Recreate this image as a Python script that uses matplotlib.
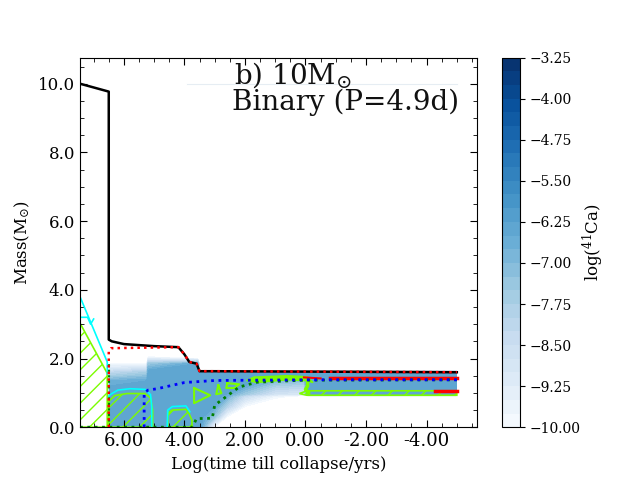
import matplotlib
matplotlib.use("Agg")
import matplotlib.pyplot as plt
import numpy as np
from matplotlib.ticker import FuncFormatter, MultipleLocator, FormatStrFormatter

plt.rcParams["font.family"] = "DejaVu Serif"
plt.rcParams["mathtext.fontset"] = "dejavuserif"
plt.rcParams["hatch.linewidth"] = 1.0

# log abundance field, columns along time, rows along mass
time_grid = [6.51, 6.48, 5.25, 5.2, 3.56, 3.48, 3.0, 2.6, 2.0, 1.0, 0.05, -0.05, -5.0]
mass_grid = [0.0, 0.3, 0.6, 0.9, 0.97, 1.2, 1.35, 1.5, 1.6, 1.66, 1.85, 2.05, 2.35]
log_ca = [
    [-11, -11, -11, -11, -11, -11, -11, -11, -11, -11, -11, -11, -11],
    [-6.5, -6.5, -6.5, -6.5, -6.5, -6.5, -6.75, -7.75, -8.25, -8.75, -9.9, -11, -11],
    [-6.25, -6.25, -6.25, -6.25, -6.25, -6.25, -6.5, -7.25, -7.75, -8.25, -9.9, -11, -11],
    [-6.25, -6.25, -6.25, -6.25, -6.25, -6.25, -6.25, -6.25, -6.5, -6.5, -7.5, -10, -11],
    [-6.25, -6.25, -6.25, -6.25, -6.25, -6.25, -6.25, -6.25, -6.25, -6.25, -6.5, -11, -11],
    [-6.25, -6.25, -6.25, -6.25, -6.25, -6.25, -6.25, -6.25, -6.25, -11, -11, -11, -11],
    [-10, -7.5, -6.5, -6.25, -6.25, -6.25, -6.25, -6.25, -6.25, -11, -11, -11, -11],
    [-11, -10, -8, -6.75, -6.5, -6.25, -6.25, -6.25, -6.25, -11, -11, -11, -11],
    [-11, -11, -10, -8.5, -7.5, -6.5, -6.25, -6.25, -6.25, -11, -11, -11, -11],
    [-11, -11, -11, -9.75, -8.75, -7.75, -7, -6.25, -6.25, -11, -11, -11, -11],
    [-11, -11, -11, -10.25, -9, -8, -7.25, -6.25, -6.25, -11, -11, -11, -11],
    [-11, -11, -11, -10.5, -6.25, -6.25, -6.25, -6.25, -6.25, -11, -11, -11, -11],
    [-11, -11, -11, -10.5, -6.25, -6.25, -6.25, -6.25, -6.25, -11, -11, -11, -11],
]

# stellar boundaries
total_time = [7.45, 6.5, 6.5, 6.4, 6.0, 5.0, 4.2, 4.0, 3.84, 3.6, 3.5, 3.0, -5.0]
total_mass = [10.0, 9.77, 2.55, 2.5, 2.42, 2.36, 2.33, 2.12, 1.9, 1.85, 1.63, 1.63, 1.6]
he_time = [6.5, 6.5, 6.42, 5.0, 4.2, 4.0, 3.84, 3.6, 3.5, 3.0, -5.0]
he_mass = [0.0, 2.2, 2.3, 2.32, 2.33, 2.12, 1.9, 1.85, 1.63, 1.63, 1.6]
c_time = [5.33, 5.33, 5.2, 4.9, 4.5, 4.0, 3.0, 0.0, -5.0]
c_mass = [0.0, 1.0, 1.08, 1.12, 1.2, 1.3, 1.36, 1.38, 1.38]
o_time = [7.45, 3.74, 3.6, 3.08, 3.0, 2.19, 1.6, 0.0, -5.0]
o_mass = [0.0, 0.0, 0.25, 0.26, 0.64, 1.17, 1.31, 1.37, 1.38]
edge_time = [6.5, 6.5]
edge_mass = [0.0, 1.9]

# convective zones
conv_left_time = [7.45, 7.45, 6.55, 6.55]
conv_left_mass = [0.0, 3.03, 1.57, 0.0]
conv_a_time = [6.5, 6.5, 6.3, 5.9, 5.3, 5.12, 5.05, 5.05]
conv_a_mass = [0.0, 0.75, 0.92, 0.98, 0.98, 0.85, 0.5, 0.0]
conv_b_time = [4.55, 4.55, 4.4, 3.95, 3.85, 3.75, 3.75]
conv_b_mass = [0.0, 0.4, 0.5, 0.52, 0.4, 0.2, 0.0]
conv_c_time = [-0.05, 0.2, -0.05, -5.0, -5.0]
conv_c_mass = [1.06, 0.98, 0.93, 0.93, 1.06]
loop_a_time = [3.68, 3.15, 3.68, 3.68]
loop_a_mass = [1.14, 0.93, 0.7, 1.14]
loop_b_time = [2.88, 2.78, 2.95, 2.88]
loop_b_mass = [1.22, 0.99, 0.96, 1.22]
loop_c_time = [2.58, 2.19, 2.35, 2.62, 2.58]
loop_c_mass = [1.28, 1.25, 1.14, 1.14, 1.28]
band_time = [1.95, 1.7, 0.6, -0.05, -0.25, -0.05, 0.6, 1.6, 1.95]
band_mass = [1.36, 1.46, 1.5, 1.47, 1.3, 1.35, 1.38, 1.3, 1.36]
stem_time = [-0.07, -0.07, 0.0, -0.1]
stem_mass = [1.37, 1.2, 1.1, 1.0]

cyan_a_time = [7.45, 6.55, 6.55]
cyan_a_mass = [3.8, 1.9, 1.55]
cyan_b_time = [7.45, 7.2, 7.1, 7.0]
cyan_b_mass = [3.2, 3.2, 3.0, 3.15]
cyan_c_time = [6.5, 6.45, 6.2, 5.8, 5.3, 5.12, 5.08, 5.08]
cyan_c_mass = [0.9, 0.95, 1.08, 1.12, 1.1, 0.95, 0.6, 0.0]
cyan_d_time = [4.57, 4.55, 4.4, 3.95, 3.82]
cyan_d_mass = [0.0, 0.5, 0.6, 0.62, 0.45]

# thick red segments
red_a_time = [-0.8, -5.0]
red_a_mass = [1.43, 1.43]
red_b_time = [-4.27, -5.0]
red_b_mass = [1.05, 1.05]
red_c_time = [0.05, -0.5]
red_c_mass = [1.45, 1.42]

faint_time = [3.9, -5.0]
faint_mass = [10.0, 10.0]

levels = np.linspace(-10, -3.25, 28)
cbar_ticks = [-10.0, -9.25, -8.5, -7.75, -7.0, -6.25, -5.5, -4.75, -4.0, -3.25]

fig, ax = plt.subplots(figsize=(6.4, 4.8), dpi=100)

cf = ax.contourf(time_grid, mass_grid, np.array(log_ca).T, levels=levels, cmap="Blues")

ax.plot(faint_time, faint_mass, color="#e6edf3", lw=0.8)

# hatched convective zones
for xs, ys in [(conv_left_time, conv_left_mass), (conv_a_time, conv_a_mass),
               (conv_b_time, conv_b_mass), (conv_c_time, conv_c_mass)]:
    ax.fill(xs, ys, facecolor="none", edgecolor="lawngreen", hatch="//", lw=1.2)

for xs, ys in [(loop_a_time, loop_a_mass), (loop_b_time, loop_b_mass),
               (loop_c_time, loop_c_mass)]:
    ax.plot(xs, ys, color="lawngreen", lw=1.5)
ax.fill(band_time, band_mass, color="lawngreen", lw=1.0)
ax.plot(stem_time, stem_mass, color="lawngreen", lw=2.5)

for xs, ys in [(cyan_a_time, cyan_a_mass), (cyan_b_time, cyan_b_mass),
               (cyan_c_time, cyan_c_mass), (cyan_d_time, cyan_d_mass)]:
    ax.plot(xs, ys, color="cyan", lw=1.2)

ax.plot(red_a_time, red_a_mass, color="red", lw=2.5)
ax.plot(red_b_time, red_b_mass, color="red", lw=2.5)
ax.plot(red_c_time, red_c_mass, color="red", lw=1.5)

ax.plot(o_time, o_mass, color="green", ls=":", lw=2)
ax.plot(edge_time, edge_mass, color="green", ls=":", lw=1.5)
ax.plot(c_time, c_mass, color="blue", ls=":", lw=2)
ax.plot(total_time, total_mass, color="black", lw=1.8)
ax.plot(he_time, he_mass, color="red", ls=":", lw=1.8)

ax.set_xlim(7.45, -5.66)
ax.set_ylim(0, 10.76)
ax.set_xlabel("Log(time till collapse/yrs)", fontsize=12)
ax.set_ylabel(r"Mass(M$_{\odot}$)", fontsize=12)
ax.xaxis.set_major_locator(MultipleLocator(2))
ax.xaxis.set_minor_locator(MultipleLocator(0.5))
ax.yaxis.set_major_locator(MultipleLocator(2))
ax.yaxis.set_minor_locator(MultipleLocator(0.5))
ax.xaxis.set_major_formatter(FormatStrFormatter("%.2f"))
ax.yaxis.set_major_formatter(FormatStrFormatter("%.1f"))
ax.tick_params(which="both", direction="in", top=True, right=True)
ax.tick_params(which="major", length=5, labelsize=12)
ax.tick_params(which="minor", length=3)
ax.tick_params(axis="x", labelsize=13)

ax.text(2.35, 10.0, r"b) 10M$_{\odot}$", fontsize=20, color="#111111")
ax.text(2.42, 9.24, "Binary (P=4.9d)", fontsize=20, color="#111111")

cbar = fig.colorbar(cf, ax=ax, ticks=cbar_ticks,
                    format=FuncFormatter(lambda v, _: f"{v:.2f}".replace("-", "\u2212")))
cbar.ax.tick_params(labelsize=10, direction="out")
cbar.set_label(r"log($^{41}$Ca)", fontsize=12, labelpad=0)

fig.savefig("out.png", dpi=100)
